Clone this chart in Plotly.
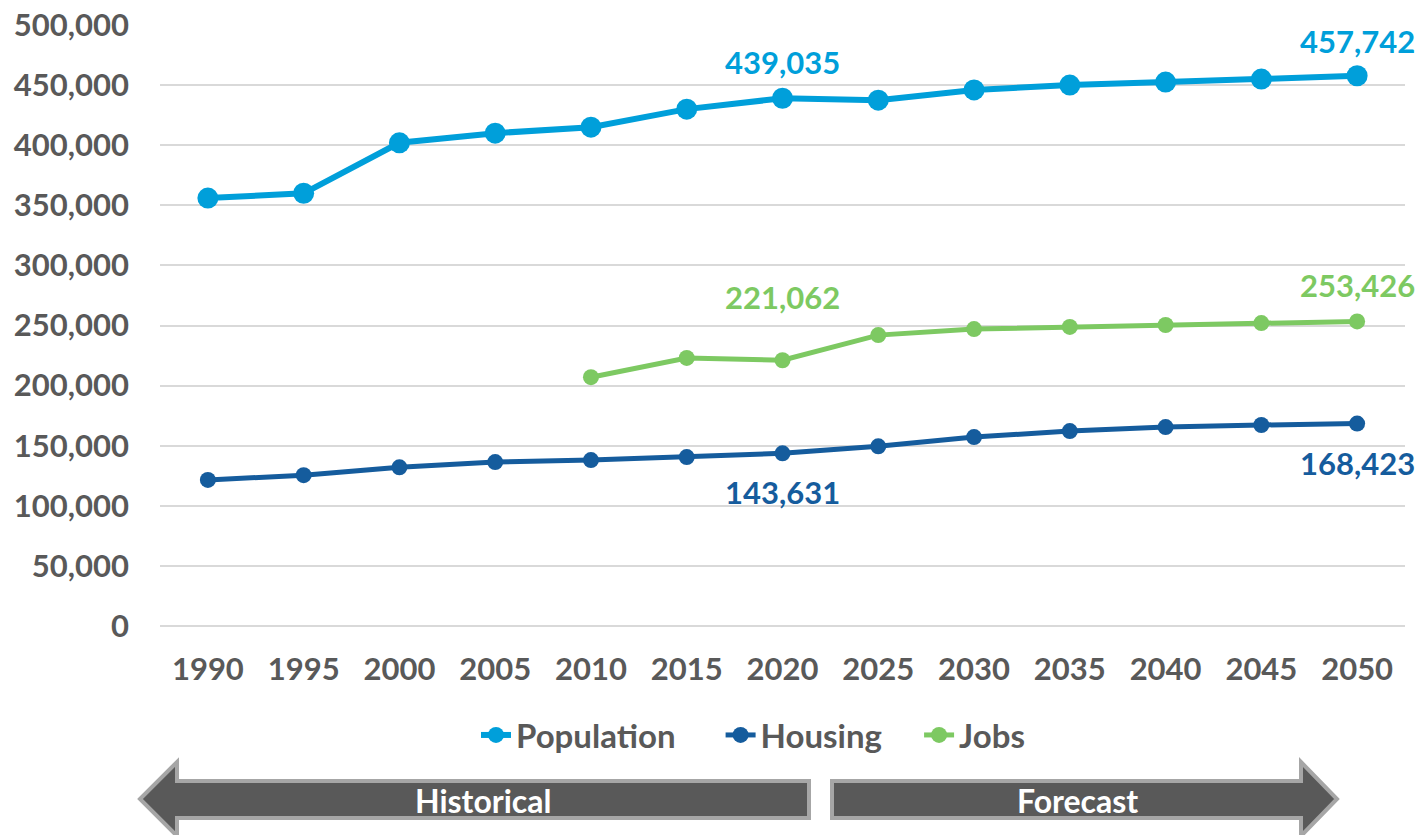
import plotly.graph_objects as go

years = ["1990", "1995", "2000", "2005", "2010", "2015", "2020",
         "2025", "2030", "2035", "2040", "2045", "2050"]
population = [356000, 360000, 402000, 410000, 415000, 430000, 439035,
              437500, 446000, 450000, 452500, 455000, 457742]
housing = [121500, 125500, 132000, 136400, 138000, 140500, 143631,
           149500, 157200, 162200, 165500, 167200, 168423]
jobs = [None, None, None, None, 207000, 223000, 221062,
        242000, 247000, 248800, 250400, 252000, 253426]
y_ticks = [0, 50000, 100000, 150000, 200000, 250000,
           300000, 350000, 400000, 450000, 500000]

POP_C = "#009FDA"
HOUS_C = "#155C9D"
JOBS_C = "#7DC962"
TXT_C = "#595959"
FONT = "Lato"

# page body has an 8px margin, so the figure sits at (8, 8) on screen
OFF = 8
W, H = 1424 - 2 * OFF, 835 - OFF
# plot area in screen pixels (used only for decorations outside the plot)
L, R, T, B = 160, 1405, 25, 626


def px(x, y):
    return (x - L) / (R - L), (B - y) / (B - T)


def path(points):
    pts = [px(x, y) for x, y in points]
    return "M " + " L ".join(f"{a:.5f},{b:.5f}" for a, b in pts) + " Z"


NB = "\u00a0"

fig = go.Figure()

fig.add_trace(go.Scatter(x=years, y=population, name="Population" + NB * 5,
                         mode="lines+markers",
                         line=dict(color=POP_C, width=6),
                         marker=dict(size=21, color=POP_C)))
fig.add_trace(go.Scatter(x=years, y=housing, name="Housing" + NB * 4,
                         mode="lines+markers",
                         line=dict(color=HOUS_C, width=5),
                         marker=dict(size=16, color=HOUS_C)))
fig.add_trace(go.Scatter(x=years, y=jobs, name="Jobs", mode="lines+markers",
                         line=dict(color=JOBS_C, width=5),
                         marker=dict(size=16, color=JOBS_C)))

# data labels (x given as category index)
labels = [
    (6, population[6], POP_C, 36),
    (12, population[12], POP_C, 35),
    (6, jobs[6], JOBS_C, 63),
    (12, jobs[12], JOBS_C, 36),
    (6, housing[6], HOUS_C, -39),
    (12, housing[12], HOUS_C, -39),
]
for i, y, c, shift in labels:
    fig.add_annotation(x=i, y=y, xref="x", yref="y", text=f"{y:,}",
                       showarrow=False, yshift=shift,
                       font=dict(family=FONT, size=31, color=c, weight="bold"))

# historical / forecast arrows
arrow_left = [(140, 799), (177, 762), (177, 781), (809, 781),
              (809, 818), (177, 818), (177, 836)]
arrow_right = [(832, 781), (1301, 781), (1301, 762), (1337, 799),
               (1301, 836), (1301, 818), (832, 818)]
for pts in (arrow_left, arrow_right):
    fig.add_shape(type="path", path=path(pts), xref="paper", yref="paper",
                  fillcolor="#595959", line=dict(color="#A6A6A6", width=4))

for text, xpx in (("Historical", 483), ("Forecast", 1077)):
    xp, yp = px(xpx, 800)
    fig.add_annotation(x=xp, y=yp, xref="paper", yref="paper", text=text,
                       showarrow=False, xanchor="center", yanchor="middle",
                       font=dict(family=FONT, size=32, color="white", weight="bold"))

lx, ly = px(476, 735)
fig.update_layout(
    width=W, height=H,
    margin=dict(l=L - OFF, r=W - (R - OFF), t=T - OFF, b=H - (B - OFF),
                autoexpand=False),
    plot_bgcolor="white", paper_bgcolor="white",
    font=dict(family=FONT, color=TXT_C, size=31, weight="bold"),
    showlegend=True,
    legend=dict(orientation="h", x=lx, y=ly, xanchor="left", yanchor="middle",
                font=dict(family=FONT, size=33, color=TXT_C, weight="bold"),
                itemwidth=30, tracegroupgap=0, bgcolor="rgba(0,0,0,0)"),
    xaxis=dict(type="category", range=[-0.5, 12.5], showgrid=False,
               showline=False, zeroline=False, ticks="",
               ticklabelstandoff=22, ticklabeloverflow="allow",
               tickfont=dict(family=FONT, size=31, color=TXT_C, weight="bold")),
    yaxis=dict(range=[0, 500000], tickvals=y_ticks, tickformat=",d",
               showgrid=True, gridcolor="#D9D9D9", gridwidth=2,
               zeroline=True, zerolinecolor="#D9D9D9", zerolinewidth=2,
               showline=False, ticks="", ticklabelstandoff=30,
               ticklabeloverflow="allow",
               tickfont=dict(family=FONT, size=31, color=TXT_C, weight="bold")),
)

fig.write_html("out.html")
